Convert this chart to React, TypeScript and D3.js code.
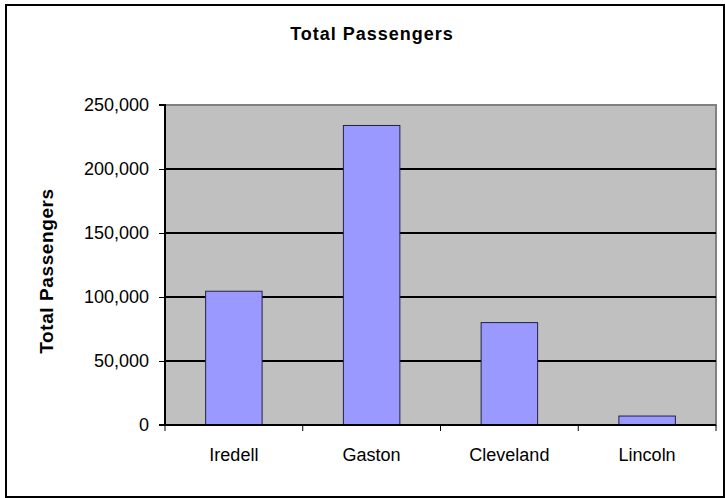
import { useEffect, useRef } from 'react';
import * as d3 from 'd3';

const categories = ['Iredell', 'Gaston', 'Cleveland', 'Lincoln'];
const passengers = [104500, 234000, 80000, 7000];
const yTicks = [0, 50000, 100000, 150000, 200000, 250000];

export default function App() {
  const svgRef = useRef<SVGSVGElement>(null);

  useEffect(() => {
    if (!svgRef.current) return;
    document.body.style.margin = '0';
    const svg = d3.select(svgRef.current);
    svg.selectAll('*').remove();

    const W = 725;
    const H = 498;
    const plot = { left: 165, top: 105, right: 716, bottom: 425 };
    const font = '"Liberation Sans", Arial, sans-serif';

    svg.append('rect')
      .attr('width', W).attr('height', H).attr('fill', '#fff');

    // outer chart border
    svg.append('rect')
      .attr('x', 6).attr('y', 5)
      .attr('width', 718).attr('height', 492)
      .attr('fill', 'none')
      .attr('stroke', '#000')
      .attr('stroke-width', 2);

    const x = d3.scaleBand<string>()
      .domain(categories)
      .range([plot.left, plot.right])
      .padding(0);

    const y = d3.scaleLinear()
      .domain([0, 250000])
      .range([plot.bottom, plot.top]);

    // plot area
    svg.append('rect')
      .attr('x', plot.left).attr('y', plot.top)
      .attr('width', plot.right - plot.left)
      .attr('height', plot.bottom - plot.top)
      .attr('fill', '#C0C0C0')
      .attr('stroke', '#808080')
      .attr('stroke-width', 2);

    // gridlines
    svg.append('g')
      .selectAll('line')
      .data(yTicks.filter(t => t > 0 && t < 250000))
      .enter()
      .append('line')
      .attr('x1', plot.left).attr('x2', plot.right)
      .attr('y1', d => y(d)).attr('y2', d => y(d))
      .attr('stroke', '#000')
      .attr('stroke-width', 2);

    // bars
    const barW = x.bandwidth() * 0.41;
    svg.append('g')
      .selectAll('rect')
      .data(categories)
      .enter()
      .append('rect')
      .attr('x', d => (x(d) as number) + (x.bandwidth() - barW) / 2)
      .attr('y', (d, i) => y(passengers[i]))
      .attr('width', barW)
      .attr('height', (d, i) => plot.bottom - y(passengers[i]))
      .attr('fill', '#9999FF')
      .attr('stroke', '#222244')
      .attr('stroke-width', 1);

    // y axis
    const yAxis = svg.append('g')
      .attr('transform', `translate(${plot.left},0)`)
      .call(d3.axisLeft(y)
        .tickValues(yTicks)
        .tickSize(6)
        .tickPadding(10)
        .tickFormat(d => d3.format(',')(d as number)));
    yAxis.select('.domain')
      .attr('d', `M-6,${plot.top}H0V${plot.bottom}`)
      .attr('stroke', '#000').attr('stroke-width', 2);
    yAxis.selectAll('.tick line').attr('stroke', '#000');
    yAxis.selectAll('text')
      .attr('font-family', font)
      .attr('font-size', 18)
      .attr('fill', '#000');

    // x axis
    const xAxis = svg.append('g')
      .attr('transform', `translate(0,${plot.bottom})`);
    xAxis.append('line')
      .attr('x1', plot.left - 6).attr('x2', plot.right)
      .attr('stroke', '#000').attr('stroke-width', 2);
    xAxis.selectAll('.sep')
      .data([...categories.map(c => x(c) as number), plot.right])
      .enter()
      .append('line')
      .attr('class', 'sep')
      .attr('x1', d => d).attr('x2', d => d)
      .attr('y1', 0).attr('y2', 6)
      .attr('stroke', '#000');
    xAxis.selectAll('.lbl')
      .data(categories)
      .enter()
      .append('text')
      .attr('class', 'lbl')
      .attr('x', d => (x(d) as number) + x.bandwidth() / 2)
      .attr('y', 36)
      .attr('text-anchor', 'middle')
      .attr('font-family', font)
      .attr('font-size', 18)
      .text(d => d);

    // title
    svg.append('text')
      .attr('x', 372).attr('y', 40)
      .attr('text-anchor', 'middle')
      .attr('font-family', font)
      .attr('font-size', 18)
      .attr('font-weight', 'bold')
      .attr('letter-spacing', 1)
      .text('Total Passengers');

    // y axis title
    svg.append('text')
      .attr('transform', `translate(53,${(plot.top + plot.bottom) / 2 + 6}) rotate(-90)`)
      .attr('text-anchor', 'middle')
      .attr('font-family', font)
      .attr('font-size', 19)
      .attr('font-weight', 'bold')
      .attr('letter-spacing', 0.6)
      .text('Total Passengers');
  }, []);

  return (
    <svg
      ref={svgRef}
      width={725}
      height={498}
      style={{ display: 'block' }}
    />
  );
}
